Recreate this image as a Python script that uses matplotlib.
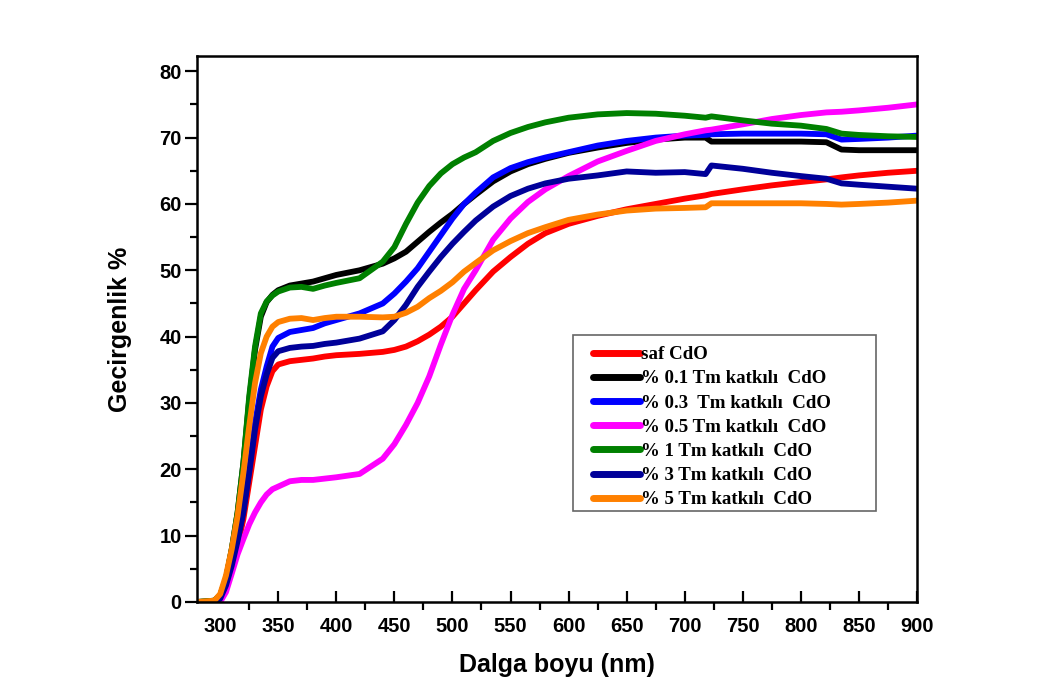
import matplotlib
matplotlib.use('Agg')
import matplotlib.pyplot as plt
from matplotlib.ticker import MultipleLocator
from matplotlib.patches import Rectangle

# dalga boyu (nm)
wl = [280, 295, 300, 305, 310, 315, 320, 325, 330, 335, 340, 345, 350, 360, 370,
      380, 390, 400, 420, 440, 450, 460, 470, 480, 490, 500, 510, 520, 535, 550,
      565, 580, 600, 625, 650, 675, 700, 718, 723, 750, 775, 800, 822, 835, 850,
      875, 900]

saf = [0, 0, 0.3, 2, 5, 8.5, 12.5, 18, 23.5, 29, 32.5, 34.8, 35.8, 36.3, 36.5,
       36.7, 37, 37.2, 37.4, 37.7, 38, 38.5, 39.3, 40.3, 41.5, 43, 45, 47, 49.8, 52,
       54, 55.6, 57, 58.2, 59.2, 60, 60.8, 61.3, 61.5, 62.2, 62.8, 63.3, 63.7, 64, 64.3,
       64.7, 65]
tm01 = [0, 0.2, 1, 3.5, 8, 13.5, 21, 30.5, 38, 43, 45.2, 46.3, 47, 47.7, 48,
        48.3, 48.8, 49.3, 50, 51, 51.8, 52.8, 54.3, 55.8, 57.2, 58.5, 60, 61.4, 63.4, 64.9,
        66, 66.8, 67.7, 68.5, 69.2, 69.7, 70, 70, 69.4, 69.4, 69.4, 69.4, 69.3, 68.2, 68.1,
        68.1, 68.1]
tm03 = [0, 0, 0.5, 2.5, 5.8, 9.5, 14, 20, 27, 32, 35.5, 38.5, 39.8, 40.7, 41,
        41.3, 42, 42.5, 43.5, 45, 46.5, 48.3, 50.3, 52.8, 55.3, 57.8, 60, 61.7, 64, 65.4,
        66.3, 67, 67.8, 68.8, 69.5, 70, 70.3, 70.4, 70.5, 70.6, 70.6, 70.6, 70.5, 69.7, 69.8,
        70, 70.3]
tm05 = [0, 0, 0, 1.5, 4.3, 7.2, 9.5, 11.7, 13.5, 15, 16.2, 17, 17.4, 18.2, 18.4,
        18.4, 18.6, 18.8, 19.3, 21.6, 23.8, 26.7, 30, 34, 38.8, 43.3, 47.2, 50, 54.6, 57.8,
        60.3, 62.2, 64.2, 66.4, 68, 69.5, 70.5, 71.1, 71.2, 72, 72.8, 73.4, 73.8, 73.9, 74.1,
        74.5, 75]
tm1 = [0, 0.2, 1, 3.5, 8, 13.5, 21, 31, 38.5, 43.5, 45.3, 46.2, 46.8, 47.4, 47.5,
       47.2, 47.7, 48.1, 48.8, 51.3, 53.5, 57, 60.2, 62.7, 64.6, 66, 67, 67.8, 69.5, 70.7,
       71.6, 72.3, 73, 73.5, 73.7, 73.6, 73.3, 73, 73.2, 72.6, 72.1, 71.8, 71.3, 70.6, 70.4,
       70.2, 70.1]
tm3 = [0, 0, 0.5, 2.5, 5.5, 9.2, 13.5, 19.5, 26, 31, 34.3, 36.8, 37.8, 38.3, 38.5,
       38.6, 38.9, 39.1, 39.7, 40.8, 42.5, 44.8, 47.5, 49.8, 52, 54, 55.8, 57.5, 59.6, 61.2,
       62.3, 63.1, 63.8, 64.3, 64.9, 64.7, 64.8, 64.5, 65.8, 65.3, 64.7, 64.2, 63.8, 63.1, 62.9,
       62.6, 62.3]
tm5 = [0, 0.2, 1.2, 4, 8, 13, 19.5, 26.5, 33, 37.5, 40, 41.5, 42.2, 42.7, 42.8,
       42.5, 42.8, 43, 43, 42.9, 43, 43.6, 44.5, 45.8, 46.9, 48.2, 49.8, 51.1, 53, 54.4,
       55.6, 56.5, 57.6, 58.4, 59, 59.3, 59.4, 59.5, 60.1, 60.1, 60.1, 60.1, 60, 59.9, 60,
       60.2, 60.5]

series = [saf, tm01, tm03, tm05, tm1, tm3, tm5]
labels = ['saf CdO', '% 0.1 Tm katkılı  CdO', '% 0.3  Tm katkılı  CdO',
          '% 0.5 Tm katkılı  CdO', '% 1 Tm katkılı  CdO', '% 3 Tm katkılı  CdO',
          '% 5 Tm katkılı  CdO']
colors = ['#ff0000', '#000000', '#0000ff', '#ff00ff', '#008000', '#000099', '#ff8000']

fig = plt.figure(figsize=(10.51, 6.83), dpi=100)
ax = fig.add_axes([0.1874, 0.1186, 0.6851, 0.7994])

for y, lab, c in zip(series, labels, colors):
    ax.plot(wl, y, color=c, lw=4.2, label=lab, solid_joinstyle='round',
            solid_capstyle='round')

ax.set_xlim(280, 900)
ax.set_ylim(0, 82.3)

ax.xaxis.set_major_locator(MultipleLocator(50))
ax.xaxis.set_minor_locator(MultipleLocator(25))
ax.yaxis.set_major_locator(MultipleLocator(10))
ax.yaxis.set_minor_locator(MultipleLocator(5))

ax.tick_params(axis='x', which='major', direction='in', length=8, width=1.6, pad=11)
ax.tick_params(axis='x', which='minor', direction='out', length=6, width=1.6)
ax.tick_params(axis='y', which='major', direction='out', length=9, width=1.6, pad=2)
ax.tick_params(axis='y', which='minor', direction='out', length=5, width=1.6)

for s in ax.spines.values():
    s.set_linewidth(1.8)

for t in ax.get_xticklabels() + ax.get_yticklabels():
    t.set_fontfamily('Liberation Sans')
    t.set_fontweight('bold')
    t.set_fontsize(14.5)

ax.set_xlabel('Dalga boyu (nm)', fontfamily='Liberation Sans', fontweight='bold',
              fontsize=18, labelpad=12)
ax.set_ylabel('Gecirgenlik %', fontfamily='Liberation Sans', fontweight='bold',
              fontsize=18, labelpad=20)

# legend kutusu
ax.add_patch(Rectangle((0.522, 0.1667), 0.421, 0.3223, transform=ax.transAxes,
                       fill=True, facecolor='white', edgecolor='#666666', lw=1.2,
                       zorder=4))
leg = ax.legend(loc='upper left', bbox_to_anchor=(0.55, 0.469),
                prop={'family': 'Liberation Serif', 'weight': 'bold', 'size': 13.6},
                frameon=False, handlelength=2.5, handletextpad=0.05,
                labelspacing=0.37, borderpad=0, borderaxespad=0)
leg.set_zorder(5)
for h in leg.get_lines():
    h.set_linewidth(5)

fig.savefig('out.png', dpi=100)
